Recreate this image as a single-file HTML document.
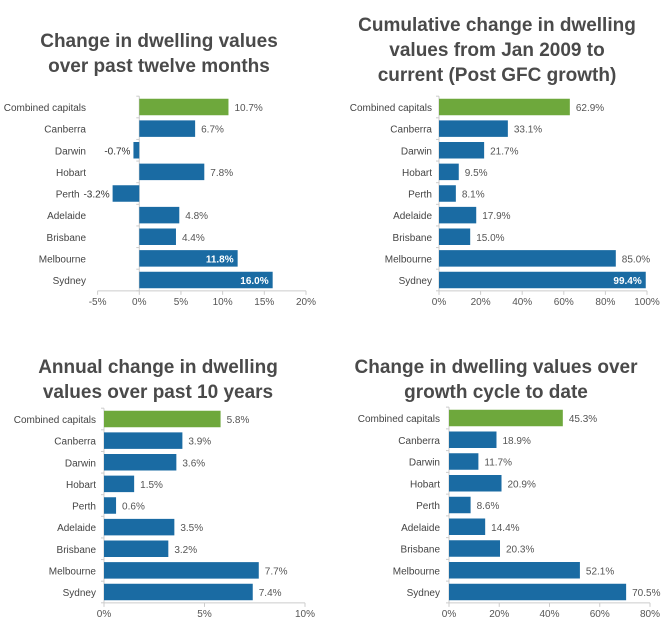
<!DOCTYPE html>
<html><head><meta charset="utf-8">
<style>
html,body{margin:0;padding:0;background:#fff;}
svg{display:block;font-family:"Liberation Sans",Arial,sans-serif;}
</style></head>
<body>
<svg id="chart" width="665" height="628" viewBox="0 0 665 628" xmlns="http://www.w3.org/2000/svg"></svg>
<script>
const categories = ["Combined capitals","Canberra","Darwin","Hobart","Perth","Adelaide","Brisbane","Melbourne","Sydney"];
const valuesTwelveMonths = [10.7,6.7,-0.7,7.8,-3.2,4.8,4.4,11.8,16.0];
const valuesPostGFC = [62.9,33.1,21.7,9.5,8.1,17.9,15.0,85.0,99.4];
const valuesTenYears = [5.8,3.9,3.6,1.5,0.6,3.5,3.2,7.7,7.4];
const valuesGrowthCycle = [45.3,18.9,11.7,20.9,8.6,14.4,20.3,52.1,70.5];
const ticksTwelveMonths = [-5,0,5,10,15,20];
const ticksPostGFC = [0,20,40,60,80,100];
const ticksTenYears = [0,5,10];
const ticksGrowthCycle = [0,20,40,60,80];
const titleTwelveMonths = ["Change in dwelling values","over past twelve months"];
const titlePostGFC = ["Cumulative change in dwelling","values from Jan 2009 to","current (Post GFC growth)"];
const titleTenYears = ["Annual change in dwelling","values over past 10 years"];
const titleGrowthCycle = ["Change in dwelling values over","growth cycle to date"];

const NS="http://www.w3.org/2000/svg";
const svg=document.getElementById('chart');
function mk(tag,attrs,parent){const e=document.createElementNS(NS,tag);for(const k in attrs)e.setAttribute(k,attrs[k]);(parent||svg).appendChild(e);return e;}

function drawChart(cfg){
  const g=mk('g',{});
  
  
  const xs=v=>cfg.x0+(v-cfg.min)/(cfg.max-cfg.min)*(cfg.x1-cfg.x0);
  const n=cfg.values.length;
  const yc=i=>cfg.yTop+i*(cfg.yBot-cfg.yTop)/(n-1);
  const step=(cfg.yBot-cfg.yTop)/(n-1);
  cfg.title.forEach((t,i)=>{
    const tt=mk('text',{x:cfg.tx,y:cfg.ty+i*cfg.tdy,'text-anchor':'middle','font-size':19,'font-weight':'bold',fill:'#4a4a4a'},g);
    tt.textContent=t;
    
    
  });
  const zx=xs(0);
  const va=mk('line',{x1:zx,x2:zx,y1:cfg.yTop-step/2,y2:cfg.yBot+step/2,stroke:'#ccc','stroke-width':1},g);
  
  
  for(let i=0;i<=n;i++){mk('line',{x1:zx-3,x2:zx,y1:cfg.yTop-step/2+i*step,y2:cfg.yTop-step/2+i*step,stroke:'#ccc'},g);}
  const ay=cfg.yBot+step/2;
  const ha=mk('line',{x1:xs(cfg.min),x2:xs(cfg.max),y1:ay,y2:ay,stroke:'#ccc'},g);
  
  
  cfg.ticks.forEach(t=>{
    mk('line',{x1:xs(t),x2:xs(t),y1:ay,y2:ay+4,stroke:'#ccc'},g);
    const tl=mk('text',{x:xs(t),y:ay+14,'text-anchor':'middle','font-size':10,fill:'#555'},g);
    tl.textContent=t+'%';
    
    
  });
  const bh=16.5;
  cfg.values.forEach((v,i)=>{
    const y=yc(i);
    const x1=Math.min(xs(0),xs(v)), w=Math.abs(xs(v)-xs(0));
    const r=mk('rect',{x:x1,y:y-bh/2,width:w,height:bh,fill:i===0?'#6ea83c':'#1a6ba3'},g);
    
    
    const lab=v.toFixed(1)+'%';
    const inside=cfg.inside.includes(i);
    let lt;
    if(inside){
      lt=mk('text',{x:xs(v)-4,y:y+4,'text-anchor':'end','font-size':10,'font-weight':'bold',fill:'#fff'},g);
    }else if(v<0){
      lt=mk('text',{x:xs(v)-3,y:y+4,'text-anchor':'end','font-size':10,fill:'#333'},g);
    }else{
      lt=mk('text',{x:xs(v)+6,y:y+4,'text-anchor':'start','font-size':10,fill:'#555'},g);
    }
    lt.textContent=lab;
    
    
    let cx=cfg.labelX;
    if(v<0) cx=Math.min(cx,xs(v)-33);
    const cl=mk('text',{x:cx,y:y+4,'text-anchor':'end','font-size':10,fill:'#444'},g);
    cl.textContent=categories[i];
    
    
  });
}

drawChart({name:'chart-twelve-months',values:valuesTwelveMonths,ticks:ticksTwelveMonths,title:titleTwelveMonths,
  min:-5,max:20,x0:97.6,x1:306,yTop:107,yBot:280,labelX:86,tx:159,ty:47,tdy:25,inside:[7,8]});
drawChart({name:'chart-post-gfc',values:valuesPostGFC,ticks:ticksPostGFC,title:titlePostGFC,
  min:0,max:100,x0:439,x1:647,yTop:107,yBot:280,labelX:432,tx:497,ty:31,tdy:25,inside:[8]});
drawChart({name:'chart-ten-years',values:valuesTenYears,ticks:ticksTenYears,title:titleTenYears,
  min:0,max:10,x0:104,x1:305,yTop:419,yBot:592,labelX:96,tx:158,ty:373,tdy:25,inside:[]});
drawChart({name:'chart-growth-cycle',values:valuesGrowthCycle,ticks:ticksGrowthCycle,title:titleGrowthCycle,
  min:0,max:80,x0:449,x1:650,yTop:418,yBot:592,labelX:440,tx:496,ty:373,tdy:25,inside:[]});
</script>
</body></html>
